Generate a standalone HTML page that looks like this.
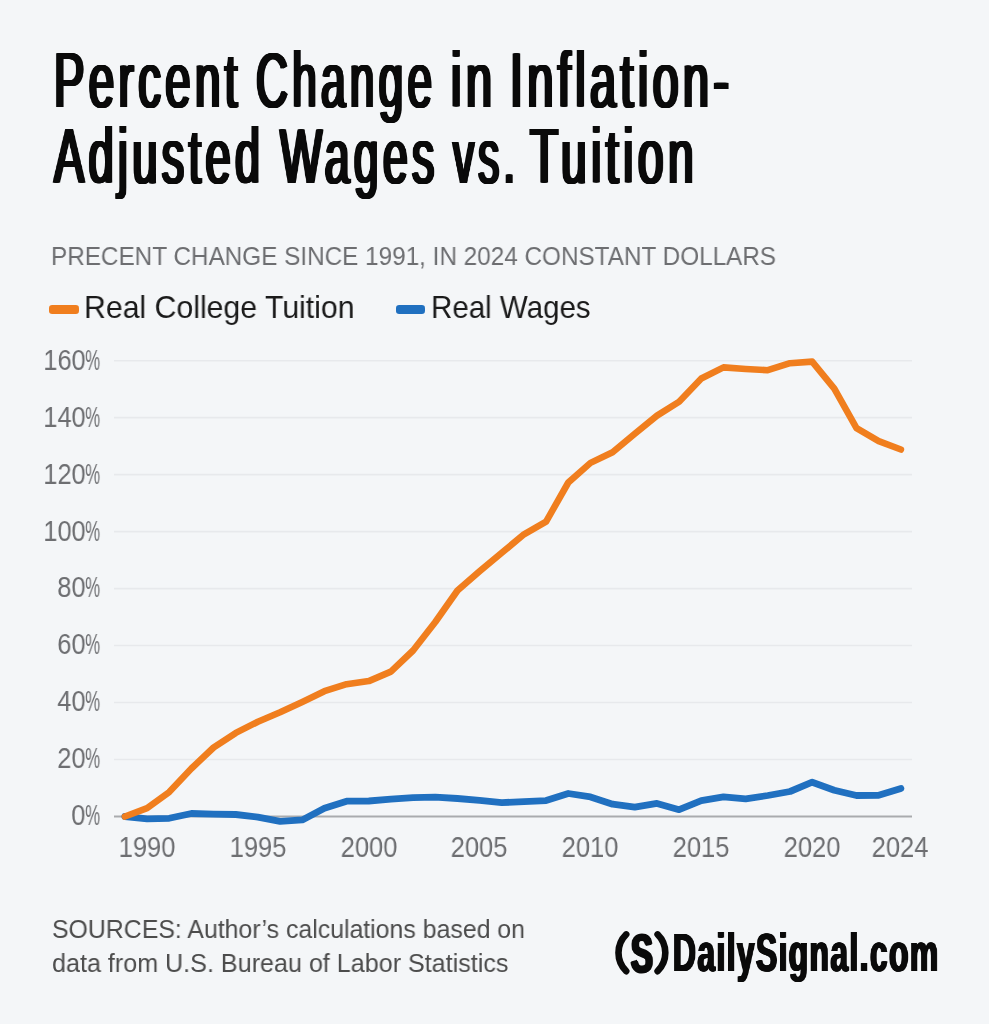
<!DOCTYPE html>
<html>
<head>
<meta charset="utf-8">
<title>Percent Change in Inflation-Adjusted Wages vs. Tuition</title>
<style>
  html, body { margin: 0; padding: 0; }
  body {
    width: 989px; height: 1024px; overflow: hidden;
    background: #f4f6f8;
    font-family: "Liberation Sans", sans-serif;
    position: relative;
  }
  .t {
    position: absolute; white-space: nowrap; line-height: 1;
    transform-origin: 0 0; margin: 0; padding: 0; will-change: transform;
  }
  .title { font-weight: 400; font-size: 78px; color: #0a0a0a; letter-spacing: 7.5px;
    text-shadow: 0.90px 0 0 #0a0a0a, -0.90px 0 0 #0a0a0a, 1.80px 0 0 #0a0a0a, -1.80px 0 0 #0a0a0a, 2.70px 0 0 #0a0a0a, -2.70px 0 0 #0a0a0a; }
  .ln1 { top: 41.2px; }
  .ln2 { top: 117px; }
  #sub { left: 50.5px; top: 242.6px; font-size: 26.45px; color: #6d6e71; transform: scaleX(0.919); }
  .leg { font-size: 31.4px; color: #1a1a1a; top: 291.9px; }
  #l1 { left: 84.2px; transform: scaleX(0.963); }
  #l2 { left: 431px; transform: scaleX(0.94); }
  .sw { position: absolute; height: 8.8px; width: 29.5px; border-radius: 3.2px; top: 304.8px; }
  #s1 { left: 49.1px; background: #f07e1e; }
  #s2 { left: 395.9px; background: #2070c0; }
  .yl { font-size: 29px; color: #6d6e71; transform: scaleX(0.873); transform-origin: 100% 0; right: 888.3px; text-align: right; }
  .yl i { font-style: normal; display: inline-block; transform: scaleX(0.663); transform-origin: 0 0; margin-right: -8.5px; }
  .xl { font-size: 29px; color: #6d6e71; transform: translateX(-50%) scaleX(0.878); transform-origin: 50% 0; top: 832.9px; }
  .src { font-size: 26px; color: #4c4c4c; left: 52px; }
  #logo { font-weight: 700; font-size: 53.8px; color: #0a0a0a; left: 672.5px; top: 926.1px; letter-spacing: 2.4px; transform: scaleX(0.59);
    text-shadow: 1.6px 0 0 #0a0a0a, -1.6px 0 0 #0a0a0a, 0.8px 0 0 #0a0a0a, -0.8px 0 0 #0a0a0a; }
  #logos { font-weight: 700; font-size: 54.3px; color: #0a0a0a; left: 630.6px; top: 927.1px; transform: scaleX(0.60); -webkit-text-stroke: 2.2px #0a0a0a;
    text-shadow: 2.4px 0 0 #0a0a0a, -2.4px 0 0 #0a0a0a, 1.2px 0 0 #0a0a0a, -1.2px 0 0 #0a0a0a; }
</style>
</head>
<body>

<div class="t title ln1" style="left:53.96px;transform:scaleX(0.5843)">Percent</div>
<div class="t title ln1" style="left:255.93px;transform:scaleX(0.5663)">Change</div>
<div class="t title ln1" style="left:451.1px;transform:scaleX(0.6)">in</div>
<div class="t title ln1" style="left:509.81px;transform:scaleX(0.597)">Inflation-</div>
<div class="t title ln2" style="left:54.26px;transform:scaleX(0.5787)">Adjusted</div>
<div class="t title ln2" style="left:280.44px;transform:scaleX(0.5717)">Wages</div>
<div class="t title ln2" style="left:453.18px;transform:scaleX(0.5411)">vs.</div>
<div class="t title ln2" style="left:529.69px;transform:scaleX(0.5924)">Tuition</div>

<div class="t" id="sub">PRECENT CHANGE SINCE 1991, IN 2024 CONSTANT DOLLARS</div>

<div class="sw" id="s1"></div>
<div class="t leg" id="l1">Real College Tuition</div>
<div class="sw" id="s2"></div>
<div class="t leg" id="l2">Real Wages</div>

<svg width="989" height="1024" viewBox="0 0 989 1024" style="position:absolute;left:0;top:0">
  <g stroke="#e7e9ec" stroke-width="1.6" fill="none">
    <line x1="114" y1="360.70" x2="912" y2="360.70"/>
    <line x1="114" y1="417.67" x2="912" y2="417.67"/>
    <line x1="114" y1="474.64" x2="912" y2="474.64"/>
    <line x1="114" y1="531.61" x2="912" y2="531.61"/>
    <line x1="114" y1="588.58" x2="912" y2="588.58"/>
    <line x1="114" y1="645.55" x2="912" y2="645.55"/>
    <line x1="114" y1="702.52" x2="912" y2="702.52"/>
    <line x1="114" y1="759.49" x2="912" y2="759.49"/>
  </g>
  <line x1="114" y1="816.6" x2="912" y2="816.6" stroke="#a9abae" stroke-width="2"/>
  <polyline id="blue" fill="none" stroke="#2070c0" stroke-width="6.8" stroke-linecap="round" stroke-linejoin="round"
    points="124.9,816.5 147.1,818.8 169.2,818.3 191.4,813.5 213.6,814.2 235.8,814.5 257.9,817.1 280.1,821.3 302.3,819.9 324.4,808.3 346.6,801.2 368.8,801.0 390.9,799.1 413.1,797.7 435.3,797.1 457.5,798.5 479.6,800.3 501.8,802.6 524.0,801.6 546.1,800.6 568.3,793.5 590.5,796.9 612.6,804.2 634.8,807.2 657.0,803.4 679.1,809.7 701.3,800.6 723.5,796.9 745.7,798.9 767.8,795.5 790.0,791.5 812.2,782.2 834.3,790.2 856.5,795.5 878.7,795.3 900.9,788.4"/>
  <polyline id="orange" fill="none" stroke="#f07e1e" stroke-width="6.6" stroke-linecap="round" stroke-linejoin="round"
    points="124.9,816.5 147.1,808.2 169.2,792.1 191.4,768.5 213.6,747.5 235.8,732.9 257.9,721.7 280.1,712.3 302.3,702.0 324.4,691.2 346.6,684.2 368.8,681.1 390.9,671.6 413.1,650.5 435.3,622.0 457.5,590.5 479.6,571.3 501.8,552.8 524.0,534.3 546.1,521.6 568.3,482.5 590.5,462.9 612.6,452.2 634.8,433.7 657.0,415.6 679.1,401.8 701.3,378.5 723.5,367.4 745.7,369.0 767.8,370.2 790.0,363.2 812.2,361.6 834.3,388.6 856.5,428.1 878.7,441.2 900.9,449.5"/>
  <g fill="none" stroke="#0a0a0a" stroke-width="6.6" stroke-linecap="round">
    <path d="M626.2,934.4 A25.8,25.8 0 0 0 626.2,971.2"/>
    <path d="M657.6,934.4 A25.8,25.8 0 0 1 657.6,971.2"/>
  </g>
</svg>

<div class="t yl" style="top:345.60px">160<i>%</i></div>
<div class="t yl" style="top:402.57px">140<i>%</i></div>
<div class="t yl" style="top:459.54px">120<i>%</i></div>
<div class="t yl" style="top:516.51px">100<i>%</i></div>
<div class="t yl" style="top:573.48px">80<i>%</i></div>
<div class="t yl" style="top:630.45px">60<i>%</i></div>
<div class="t yl" style="top:687.42px">40<i>%</i></div>
<div class="t yl" style="top:744.39px">20<i>%</i></div>
<div class="t yl" style="top:801.36px">0<i>%</i></div>

<div class="t xl" style="left:146.75px">1990</div>
<div class="t xl" style="left:257.60px">1995</div>
<div class="t xl" style="left:368.50px">2000</div>
<div class="t xl" style="left:479.40px">2005</div>
<div class="t xl" style="left:590.30px">2010</div>
<div class="t xl" style="left:701.20px">2015</div>
<div class="t xl" style="left:812.10px">2020</div>
<div class="t xl" style="left:899.9px">2024</div>

<div class="t src" style="top:915.6px;transform:scaleX(0.956)">SOURCES: Author’s calculations based on</div>
<div class="t src" style="top:950.3px;transform:scaleX(0.966)">data from U.S. Bureau of Labor Statistics</div>

<div class="t" id="logos">S</div>
<div class="t" id="logo">DailySignal.com</div>

</body>
</html>
